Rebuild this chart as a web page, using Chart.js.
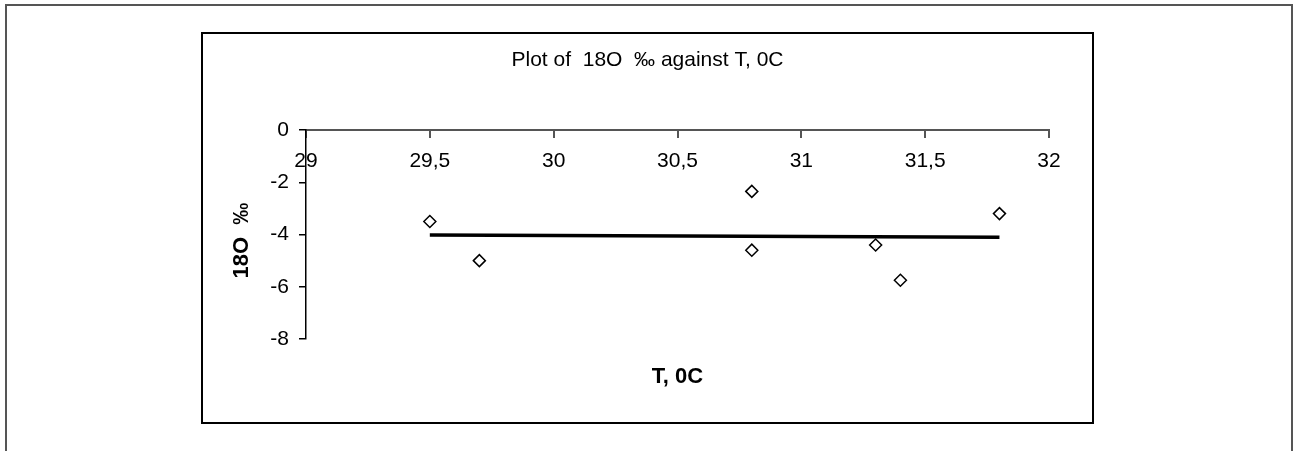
<!DOCTYPE html>
<html><head><meta charset="utf-8">
<script src="https://cdn.jsdelivr.net/npm/chart.js@4.4.1/dist/chart.umd.min.js"></script>
<style>
html,body{margin:0;padding:0;background:#fff;overflow:hidden;width:1294px;height:451px;}
#outer{position:absolute;left:5px;top:4px;width:1284px;height:480px;border:2px solid #555;}
#inner{position:absolute;left:201px;top:32px;width:889px;height:388px;border:2px solid #000;}
#c{position:absolute;left:0;top:0;}
</style></head><body>
<div id="outer"></div><div id="inner"></div>
<canvas id="c" width="1294" height="451"></canvas>
<script>
// ---- data ----
const chartTitle = 'Plot of  18O  \u2030 against T, 0C';
const xAxisTitle = 'T, 0C';
const yAxisTitle = '18O  \u2030  ';
const tempC = [29.5, 29.7, 30.8, 30.8, 31.3, 31.4, 31.8];
const d18O = [-3.5, -5.0, -2.35, -4.6, -4.4, -5.75, -3.2];
const trendX = [29.5, 31.8];
const trendY = [-4.02, -4.11];
const xTickLabels = ['29', '29,5', '30', '30,5', '31', '31,5', '32'];
const xMin = 29, xMax = 32, xStep = 0.5;
const yMin = -8, yMax = 0, yStep = 2;

const FONT = '"Liberation Sans", Arial, sans-serif';

new Chart(document.getElementById('c'), {
  type: 'scatter',
  data: {
    datasets: [
      {
        label: '18O',
        data: tempC.map((x, i) => ({x: x, y: d18O[i]})),
        pointStyle: 'rectRot',
        pointRadius: 6,
        pointHoverRadius: 6,
        backgroundColor: '#fff',
        borderColor: '#000',
        borderWidth: 1.5,
        showLine: false
      },
      {
        label: 'Linear',
        data: trendX.map((x, i) => ({x: x, y: trendY[i]})),
        showLine: true,
        borderColor: '#000',
        borderWidth: 3.5,
        pointRadius: 0,
        pointHoverRadius: 0,
        fill: false,
        tension: 0
      }
    ]
  },
  options: {
    responsive: false,
    animation: false,
    devicePixelRatio: 1,
    layout: {padding: {left: 200, right: 199, top: 0, bottom: 112}},
    plugins: {
      legend: {display: false},
      tooltip: {enabled: false},
      title: {
        display: true,
        text: chartTitle,
        color: '#000',
        font: {family: FONT, size: 21, weight: 'normal'},
        padding: {top: 47.5, bottom: 57.3}
      }
    },
    scales: {
      x: {
        type: 'linear',
        position: {y: 0},
        min: xMin, max: xMax,
        border: {display: true, color: '#555', width: 2},
        grid: {display: true, drawOnChartArea: false, drawTicks: true, tickLength: 7, color: '#555', lineWidth: 2},
        ticks: {
          stepSize: xStep, autoSkip: false, maxRotation: 0, padding: 12, color: '#000',
          font: {family: FONT, size: 21},
          callback: (v, i) => xTickLabels[i]
        },
        title: {display: true, text: xAxisTitle, color: '#000', font: {family: FONT, size: 22, weight: 'bold'}, padding: 0},
        afterFit: (s) => { s.height = 260; }
      },
      y: {
        type: 'linear',
        position: 'left',
        min: yMin, max: yMax,
        border: {display: true, color: '#000', width: 1.5},
        grid: {display: true, drawOnChartArea: false, drawTicks: true, tickLength: 7, color: '#000', lineWidth: 1.5},
        ticks: {stepSize: yStep, padding: 10, color: '#000', font: {family: FONT, size: 21}},
        title: {display: true, text: yAxisTitle, color: '#000', font: {family: FONT, size: 22, weight: 'bold'}, padding: {top: 29, bottom: 0}},
        afterFit: (s) => { s.width = 106; }
      },
      yR: {
        type: 'linear',
        position: 'right',
        display: true,
        border: {display: false},
        grid: {display: false},
        ticks: {display: false},
        afterFit: (s) => { s.width = 46; }
      }
    }
  }
});
</script></body></html>
